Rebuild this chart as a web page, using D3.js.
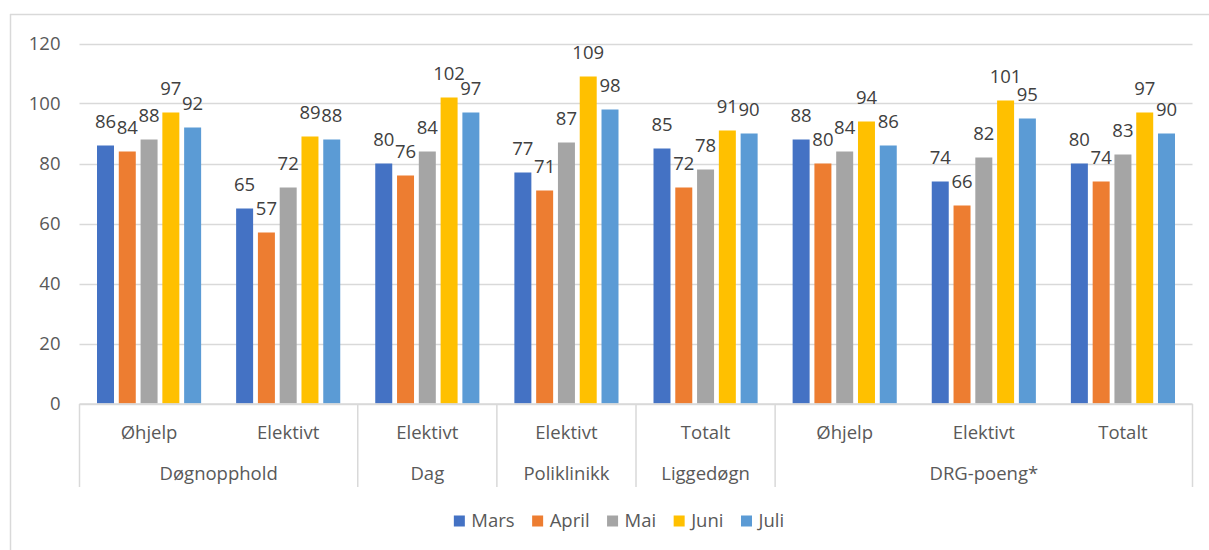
<!DOCTYPE html>
<html>
<head>
<meta charset="utf-8">
<script src="https://cdn.jsdelivr.net/npm/d3@7"></script>
<style>
  html, body { margin: 0; padding: 0; background: #fff; }
  svg { display: block; }
  text { font-family: "Open Sans", "Noto Sans", sans-serif; }
</style>
</head>
<body>
<svg id="chart" width="1209" height="550"></svg>
<script>
// Sub-categories along the x axis and the group each one belongs to
const categories = ["Øhjelp", "Elektivt", "Elektivt", "Elektivt", "Totalt", "Øhjelp", "Elektivt", "Totalt"];
const groupNames = ["Døgnopphold", "Dag", "Poliklinikk", "Liggedøgn", "DRG-poeng*"];
const groupSpans = [2, 1, 1, 1, 3];

// Months (series) and their values per sub-category
const seriesNames = ["Mars", "April", "Mai", "Juni", "Juli"];
const mars  = [86, 65, 80, 77, 85, 88, 74, 80];
const april = [84, 57, 76, 71, 72, 80, 66, 74];
const mai   = [88, 72, 84, 87, 78, 84, 82, 83];
const juni  = [97, 89, 102, 109, 91, 94, 101, 97];
const juli  = [92, 88, 97, 98, 90, 86, 95, 90];
const yTicks = [0, 20, 40, 60, 80, 100, 120];

const seriesValues = [mars, april, mai, juni, juli];
const colors = ["#4472C4", "#ED7D31", "#A5A5A5", "#FFC000", "#5B9BD5"];

const svg = d3.select("#chart");
const gridColor = "#d9d9d9";
const fontSize = 18.5;

// Chart frame
svg.append("line").attr("x1", 10).attr("x2", 1209).attr("y1", 14.5).attr("y2", 14.5)
  .attr("stroke", gridColor).attr("stroke-width", 1.5);
svg.append("line").attr("x1", 10.5).attr("x2", 10.5).attr("y1", 14).attr("y2", 550)
  .attr("stroke", gridColor).attr("stroke-width", 1.5);

const plotLeft = 79.5, plotRight = 1192.5;
const y = d3.scaleLinear().domain([0, 120]).range([403.5, 43.5]);

const x0 = d3.scaleBand()
  .domain(d3.range(categories.length))
  .range([plotLeft, plotRight])
  .padding(0);
const bw = x0.bandwidth();
const groupPad = 17.5;
const x1 = d3.scaleBand()
  .domain(d3.range(seriesNames.length))
  .range([groupPad, bw - groupPad])
  .paddingInner(0.22)
  .paddingOuter(0);

// Horizontal gridlines
svg.append("g").selectAll("line").data(yTicks).join("line")
  .attr("x1", plotLeft).attr("x2", plotRight)
  .attr("y1", d => Math.round(y(d)) + 0.5).attr("y2", d => Math.round(y(d)) + 0.5)
  .attr("stroke", gridColor).attr("stroke-width", 1.3);

// Y tick labels
svg.append("g").selectAll("text").data(yTicks).join("text")
  .attr("x", 60.5).attr("y", d => y(d) + 6.5)
  .attr("text-anchor", "end")
  .attr("font-size", fontSize).attr("fill", "#595959")
  .text(d => d);

// Bars
const barsG = svg.append("g");
seriesValues.forEach((vals, s) => {
  barsG.append("g").selectAll("rect").data(vals).join("rect")
    .attr("x", (d, i) => x0(i) + x1(s))
    .attr("y", d => y(d))
    .attr("width", x1.bandwidth())
    .attr("height", d => y(0) - y(d))
    .attr("fill", colors[s]);
});

// Value labels above bars
const labelsG = svg.append("g");
seriesValues.forEach((vals, s) => {
  labelsG.append("g").selectAll("text").data(vals).join("text")
    .attr("x", (d, i) => x0(i) + x1(s) + x1.bandwidth() / 2)
    .attr("y", d => y(d) - 17.5)
    .attr("text-anchor", "middle")
    .attr("font-size", fontSize).attr("fill", "#404040")
    .text(d => d);
});

// Multi-level category axis
const axisTop = 404, axisBottom = 487;
const axisG = svg.append("g");
axisG.append("line").attr("x1", plotLeft).attr("x2", plotRight)
  .attr("y1", axisTop).attr("y2", axisTop)
  .attr("stroke", gridColor).attr("stroke-width", 1.5);

// Group boundaries (left edge, between groups, right edge)
const boundaries = [0];
groupSpans.reduce((acc, n) => { boundaries.push(acc + n); return acc + n; }, 0);
axisG.selectAll("line.sep").data(boundaries).join("line")
  .attr("class", "sep")
  .attr("x1", d => d < categories.length ? x0(d) : plotRight)
  .attr("x2", d => d < categories.length ? x0(d) : plotRight)
  .attr("y1", axisTop).attr("y2", axisBottom)
  .attr("stroke", gridColor).attr("stroke-width", 1.5);

// First row: sub-category names
axisG.selectAll("text.cat").data(categories).join("text")
  .attr("class", "cat")
  .attr("x", (d, i) => x0(i) + bw / 2)
  .attr("y", 439)
  .attr("text-anchor", "middle")
  .attr("font-size", fontSize).attr("fill", "#595959")
  .text(d => d);

// Second row: group names centred on their span
axisG.selectAll("text.grp").data(groupNames).join("text")
  .attr("class", "grp")
  .attr("x", (d, i) => {
    const start = boundaries[i], end = boundaries[i + 1];
    return plotLeft + (start + end) / 2 * bw;
  })
  .attr("y", 480)
  .attr("text-anchor", "middle")
  .attr("font-size", fontSize).attr("fill", "#595959")
  .text(d => d);

// Legend, centred beneath the chart
const legend = svg.append("g");
const sq = 11, sqGap = 6.5, itemGap = 17.5;
const items = legend.selectAll("g").data(seriesNames).join("g");
items.append("rect").attr("width", sq).attr("height", sq).attr("y", 515.5)
  .attr("fill", (d, i) => colors[i]);
items.append("text").attr("x", sq + sqGap).attr("y", 527)
  .attr("font-size", fontSize).attr("fill", "#595959")
  .text(d => d);
let cursor = 0;
const offsets = [];
items.each(function () {
  offsets.push(cursor);
  const w = this.querySelector("text").getComputedTextLength();
  cursor += sq + sqGap + w + itemGap;
});
const totalW = cursor - itemGap;
const legendStart = 619 - totalW / 2;
items.attr("transform", (d, i) => `translate(${legendStart + offsets[i]},0)`);
</script>
</body>
</html>
